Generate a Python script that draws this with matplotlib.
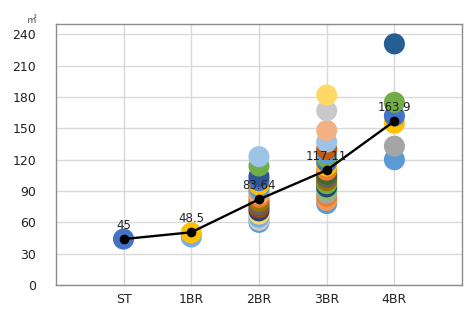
import matplotlib
matplotlib.use('Agg')
import matplotlib.pyplot as plt

plt.rcParams['font.family'] = ['DejaVu Sans', 'Noto Sans CJK KR']

categories = ['ST', '1BR', '2BR', '3BR', '4BR']

# individual units (area, m2) per type
st_vals = [44]
br1_vals = [46, 50]
br2_vals = [123, 114, 104, 100, 96, 93, 90, 87, 84, 80, 77, 74, 71, 68, 65, 62, 60]
br3_vals = [182, 167, 148, 137, 130, 126, 122, 118, 114, 110, 106, 103, 100, 97,
            94, 91, 88, 85, 81, 78]
br4_vals = [231, 175, 162, 155, 133, 120]

st_cols = ['#4472C4']
br1_cols = ['#7CAFDD', '#FFC000']
br2_cols = ['#9DC3E6', '#70AD47', '#2F5597', '#4472C4', '#FFC000', '#5B9BD5', '#A5A5A5',
            '#F4B183', '#ED7D31', '#997300', '#636363', '#9E480E', '#264478', '#FFD966',
            '#7CAFDD', '#C9C9C9', '#5B9BD5']
br3_cols = ['#FFD966', '#C9C9C9', '#F4B183', '#9DC3E6', '#C55A11', '#5B9BD5', '#70AD47',
            '#4472C4', '#FFC000', '#ED7D31', '#43682B', '#636363', '#997300', '#70AD47',
            '#264478', '#8CC168', '#A5A5A5', '#ED7D31', '#F1975A', '#5B9BD5']
br4_cols = ['#255E91', '#70AD47', '#4472C4', '#FFC000', '#A5A5A5', '#5B9BD5']

# line through the group averages
avg_line = [44, 50.5, 82, 110, 157]
avg_labels = ['45', '48.5', '83.64', '117.11', '163.9']

fig = plt.figure(figsize=(4.73, 3.12), dpi=100)
ax = fig.add_axes([0.118, 0.0865, 0.859, 0.8365])

xpos = [1, 2, 3, 4, 5]
groups = [(st_vals, st_cols), (br1_vals, br1_cols), (br2_vals, br2_cols),
          (br3_vals, br3_cols), (br4_vals, br4_cols)]
for x, (vals, cols) in zip(xpos, groups):
    # draw lowest first so upper circles sit on top
    for v, c in sorted(zip(vals, cols)):
        ax.scatter([x], [v], s=230, color=c, edgecolors='none', zorder=3)

ax.plot(xpos, avg_line, color='black', lw=1.7, marker='o', ms=6, zorder=5)
for x, v, t in zip(xpos, avg_line, avg_labels):
    ax.annotate(t, (x, v), xytext=(0, 10), textcoords='offset points',
                ha='center', va='center', fontsize=8.5, color='#222222', zorder=6)

ax.set_xlim(0, 6)
ax.set_ylim(0, 250)
ax.set_xticks(xpos)
ax.set_xticklabels(categories)
ax.set_yticks(range(0, 241, 30))
ax.tick_params(length=0, labelsize=9, colors='#222222')
ax.tick_params(axis='y', pad=14)
ax.tick_params(axis='x', pad=6)
ax.grid(True, color='#D9D9D9', lw=1)
ax.set_axisbelow(True)
for sp in ax.spines.values():
    sp.set_color('#8C8C8C')
    sp.set_linewidth(1)

fig.text(0.057, 0.935, '㎡', fontsize=7, color='#444444', ha='left', va='center',
         family=['Noto Sans CJK KR', 'DejaVu Sans'])

fig.savefig('out.png', dpi=100)
